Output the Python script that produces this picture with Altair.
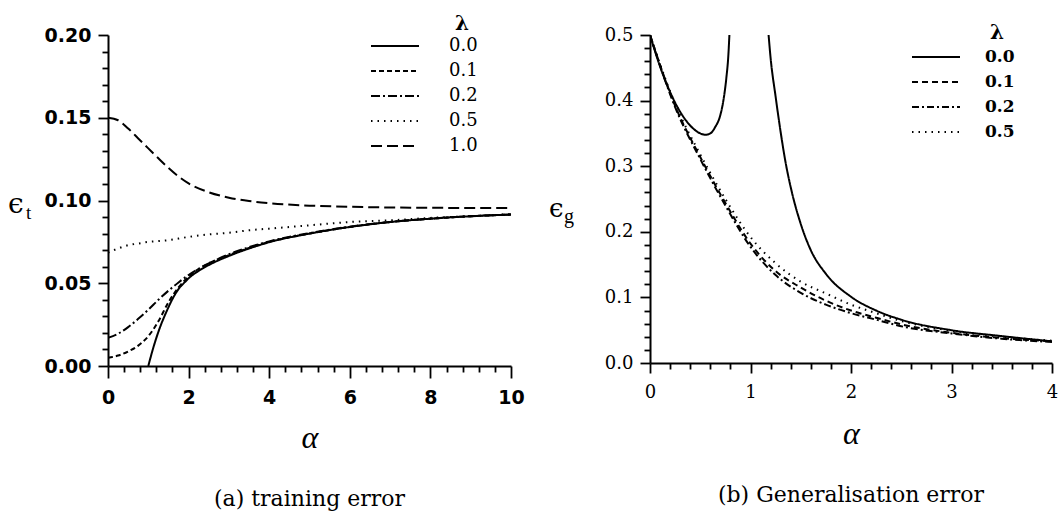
import altair as alt
import pandas as pd

# ---------------- panel (a): training error ----------------
A_LAMBDAS = ["0.0", "0.1", "0.2", "0.5", "1.0"]
A_L00_ALPHA = [1.0, 1.1, 1.2, 1.3, 1.4, 1.5, 1.6, 1.75, 1.9, 2.0, 2.25, 2.5, 3.0, 3.5, 4.0, 5.0, 6.0, 7.0, 8.0, 9.0, 10.0]
A_L00 = [0.0, 0.009, 0.017, 0.024, 0.030, 0.0355, 0.0405, 0.0465, 0.0505, 0.053, 0.0575, 0.061, 0.0665, 0.071, 0.0748, 0.080, 0.084, 0.087, 0.089, 0.0905, 0.0915]
A_ALPHA = [0, 0.25, 0.5, 0.75, 1.0, 1.25, 1.5, 1.75, 2.0, 2.5, 3.0, 3.5, 4.0, 5.0, 6.0, 7.0, 8.0, 9.0, 10.0]
A_L01 = [0.005, 0.0063, 0.0088, 0.0123, 0.018, 0.027, 0.0385, 0.0475, 0.054, 0.062, 0.067, 0.0713, 0.075, 0.080, 0.084, 0.087, 0.089, 0.0905, 0.0915]
A_L02 = [0.017, 0.0195, 0.0235, 0.0285, 0.034, 0.040, 0.0455, 0.0505, 0.055, 0.062, 0.0675, 0.0718, 0.0753, 0.0803, 0.0842, 0.087, 0.089, 0.0905, 0.0915]
A_L05 = [0.0685, 0.071, 0.073, 0.074, 0.075, 0.0755, 0.076, 0.077, 0.078, 0.0795, 0.0805, 0.082, 0.083, 0.085, 0.087, 0.088, 0.0895, 0.0905, 0.0918]
A_L10 = [0.150, 0.1485, 0.1435, 0.1375, 0.1315, 0.1255, 0.1197, 0.1145, 0.1103, 0.1050, 0.1017, 0.0997, 0.0984, 0.0969, 0.0962, 0.0958, 0.0956, 0.0955, 0.0955]
A_YTICKS = [round(0.01 * i, 2) for i in range(21)]
A_XTICKS = [round(0.4 * i, 1) for i in range(26)]

# ---------------- panel (b): generalisation error ----------------
B_LAMBDAS = ["0.0", "0.1", "0.2", "0.5"]
B_L00_ALPHA_1 = [0, 0.1, 0.2, 0.3, 0.4, 0.5, 0.55, 0.6, 0.65, 0.7, 0.73, 0.76, 0.78, 0.79]
B_L00_1 = [0.5, 0.452, 0.413, 0.383, 0.362, 0.350, 0.348, 0.350, 0.360, 0.378, 0.400, 0.435, 0.470, 0.5]
B_L00_ALPHA_2 = [1.18, 1.2, 1.25, 1.3, 1.35, 1.4, 1.5, 1.6, 1.75, 2.0, 2.25, 2.5, 3.0, 3.5, 4.0]
B_L00_2 = [0.5, 0.465, 0.406, 0.352, 0.305, 0.268, 0.212, 0.172, 0.136, 0.101, 0.080, 0.066, 0.050, 0.041, 0.033]
B_ALPHA = [0, 0.25, 0.5, 0.75, 1.0, 1.25, 1.5, 1.75, 2.0, 2.25, 2.5, 3.0, 3.5, 4.0]
B_L01 = [0.5, 0.392, 0.314, 0.244, 0.182, 0.140, 0.115, 0.095, 0.080, 0.069, 0.059, 0.046, 0.038, 0.033]
B_L02 = [0.5, 0.390, 0.311, 0.240, 0.177, 0.134, 0.107, 0.089, 0.076, 0.066, 0.056, 0.045, 0.037, 0.032]
B_L05 = [0.5, 0.395, 0.318, 0.250, 0.192, 0.152, 0.124, 0.106, 0.089, 0.076, 0.064, 0.049, 0.040, 0.034]
B_YTICKS = [round(0.02 * i, 2) for i in range(26)]
B_XTICKS = [round(0.2 * i, 1) for i in range(21)]


def rows(alpha, err, lam, branch="a"):
    return [{"alpha": a, "err": e, "lam": lam, "branch": branch} for a, e in zip(alpha, err)]


df_a = pd.DataFrame(
    rows(A_L00_ALPHA, A_L00, "0.0") + rows(A_ALPHA, A_L01, "0.1") + rows(A_ALPHA, A_L02, "0.2")
    + rows(A_ALPHA, A_L05, "0.5") + rows(A_ALPHA, A_L10, "1.0")
)
df_b = pd.DataFrame(
    rows(B_L00_ALPHA_1, B_L00_1, "0.0", "a") + rows(B_L00_ALPHA_2, B_L00_2, "0.0", "b")
    + rows(B_ALPHA, B_L01, "0.1") + rows(B_ALPHA, B_L02, "0.2") + rows(B_ALPHA, B_L05, "0.5")
)

SERIF = "DejaVu Serif"
SANSB = "DejaVu Sans"


def make_axis(values, major, fmt, font, weight, size, major_len, minor_len, pad, title=None, title_pad=0):
    kw = dict(
        values=values, format=fmt,
        labelExpr=f"({major}) ? datum.label : ''",
        tickSize={"condition": {"test": major, "value": major_len}, "value": minor_len},
        tickColor="black", tickWidth=1.8, domainColor="black", domainWidth=2,
        labelColor="black", labelFont=font, labelFontWeight=weight, labelFontSize=size,
        labelPadding=pad, labelFlush=False, labelOverlap=False, grid=False,
    )
    if title is None:
        kw["title"] = None
    else:
        kw.update(title=title, titleFont="Liberation Serif", titleFontStyle="italic", titleFontWeight="normal",
                  titleFontSize=32, titleColor="black", titlePadding=title_pad)
    return alt.Axis(**kw)


def legend(lx, ly, label_weight, label_size, label_offset):
    return alt.Legend(
        title=None, orient="none", legendX=lx, legendY=ly, symbolType="stroke", symbolSize=2304,
        symbolStrokeWidth=2, symbolStrokeColor="black", labelFont=SERIF,
        labelFontWeight=label_weight, labelFontSize=label_size, labelColor="black",
        labelOffset=label_offset, rowPadding=7, clipHeight=18, padding=0,
    )


def text_layer(s, font, size, x, y, weight="normal", baseline="alphabetic", align="left"):
    return alt.Chart(pd.DataFrame({"t": [s]})).mark_text(
        font=font, fontSize=size, fontWeight=weight, align=align, baseline=baseline, color="black"
    ).encode(x=alt.value(x), y=alt.value(y), text="t:N")


dash_a = [[1, 0], [5, 3], [9, 3, 2, 3], [1.5, 5], [11, 5]]
line_a = alt.Chart(df_a).mark_line(color="black", strokeWidth=2, interpolate="monotone", clip=True).encode(
    x=alt.X("alpha:Q", scale=alt.Scale(domain=[0, 10], nice=False, zero=False),
            axis=make_axis(A_XTICKS, "abs(datum.value/2 - round(datum.value/2)) < 1e-6", ".0f",
                           SANSB, "bold", 19, 12, 6, 10, "α", 15)),
    y=alt.Y("err:Q", scale=alt.Scale(domain=[0, 0.2], nice=False, zero=False),
            axis=make_axis(A_YTICKS, "abs(datum.value*20 - round(datum.value*20)) < 1e-6", ".2f",
                           SANSB, "bold", 19, 10, 6, 7)),
    strokeDash=alt.StrokeDash("lam:N", scale=alt.Scale(domain=A_LAMBDAS, range=dash_a),
                              legend=legend(262, 2, "normal", 18, 29)),
    detail="branch:N",
)

panel_a = alt.layer(
    line_a,
    text_layer("ϵ", "DejaVu Serif", 28, -100, 178),
    text_layer("t", "Liberation Serif", 19, -82, 184),
    text_layer("λ", "DejaVu Serif", 20, 354, -11, weight="bold", baseline="middle", align="center"),
).properties(
    width=403, height=331,
    title=alt.TitleParams("(a) training error", orient="bottom", font=SERIF, fontSize=22,
                          fontWeight="normal", color="black", offset=36, anchor="middle"),
)

dash_b = [[1, 0], [6, 4], [7, 3, 2, 3], [1.5, 5]]
line_b = alt.Chart(df_b).mark_line(color="black", strokeWidth=2, interpolate="monotone", clip=True).encode(
    x=alt.X("alpha:Q", scale=alt.Scale(domain=[0, 4], nice=False, zero=False),
            axis=make_axis(B_XTICKS, "abs(datum.value - round(datum.value)) < 1e-6", ".0f",
                           SERIF, "normal", 18, 10, 6, 10, "α", 17)),
    y=alt.Y("err:Q", scale=alt.Scale(domain=[0, 0.5], nice=False, zero=False),
            axis=make_axis(B_YTICKS, "abs(datum.value*10 - round(datum.value*10)) < 1e-6", ".1f",
                           SERIF, "normal", 18, 10, 6, 7)),
    strokeDash=alt.StrokeDash("lam:N", scale=alt.Scale(domain=B_LAMBDAS, range=dash_b),
                              legend=legend(261, 13, "bold", 17, 24)),
    detail="branch:N",
)

panel_b = alt.layer(
    line_b,
    text_layer("ϵ", "DejaVu Serif", 26, -101, 182),
    text_layer("g", "Liberation Serif", 20, -86, 188),
    text_layer("λ", "DejaVu Serif", 20, 347, -2, weight="bold", baseline="middle", align="center"),
).properties(
    width=402, height=328,
    title=alt.TitleParams("(b) Generalisation error", orient="bottom", font=SERIF, fontSize=22,
                          fontWeight="normal", color="black", offset=36, anchor="middle"),
)

chart = alt.hconcat(panel_a, panel_b, spacing=139, bounds="flush").resolve_scale(
    strokeDash="independent", x="independent", y="independent"
).properties(
    padding={"left": 8, "top": 14, "right": 2, "bottom": 2},
    background="white",
).configure_view(stroke=None)

chart.save("out.html", embed_options={"renderer": "svg", "actions": False})
